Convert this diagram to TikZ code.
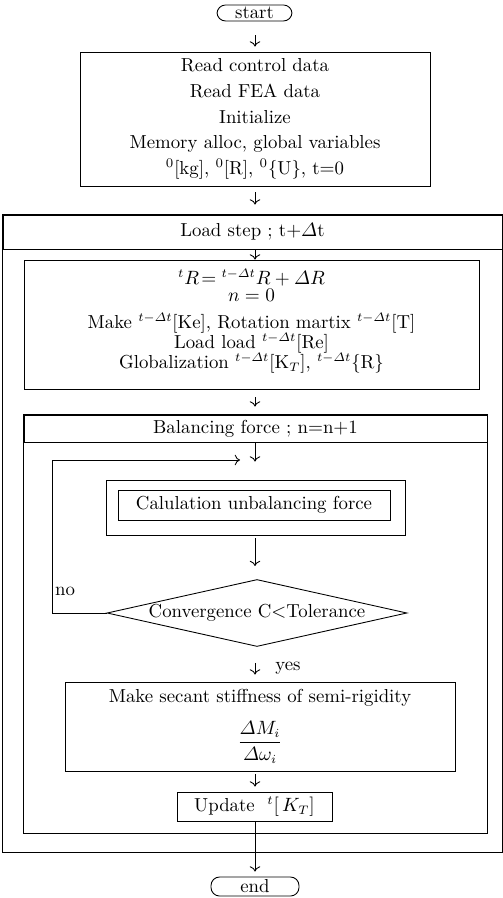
\documentclass[tikz,border=0pt]{standalone}
\usepackage{amsmath}
\usepackage{amssymb}
\usetikzlibrary{shapes.geometric,arrows.meta}
\lineskiplimit=-20pt

\begin{document}
\begin{tikzpicture}[x=0.02cm, y=-0.02cm, line width=0.5pt,
    every node/.style={font=\fontsize{10.7}{14.7}\selectfont},
    term/.style={draw, rounded corners=0.17cm, inner sep=0pt},
    box/.style={draw, align=center, inner sep=0pt},
    cond/.style={draw, diamond, aspect=4.5, inner sep=0pt},
    arr/.style={-{To[length=3pt,width=6pt]}}]
    \useasboundingbox (0,0) rectangle (503,898);
    \coordinate (axis) at (255,0);

    % start and input
    \node[term, minimum width=1.5cm, minimum height=0.32cm] (start) at (254.5,13) {start};
    \node[box, minimum width=7cm, minimum height=2.68cm] (box1) at (255,119)
        {Read control data\\ Read FEA data\\ Initialize\\ Memory alloc, global variables\\
         \textsuperscript{0}[kg], \textsuperscript{0}[R], \textsuperscript{0}\{U\}, t$=$0};

    % load step loop
    \node[box, minimum width=9.98cm, minimum height=0.68cm] (loadhdr) at (252.5,232)
        {Load step\ ; t$+\varDelta$t};
    \coordinate (loadbot) at (502,852);
    \draw (loadhdr.north west) rectangle (loadbot);
    \node[box, minimum width=9.1cm, minimum height=2.58cm,
        font=\fontsize{10.7}{11.4}\selectfont] (box2) at (251.5,324.5)
        {${}^{t}R\!={}^{t-\varDelta t}R+\varDelta R$\\[-1.8pt]
         $n=0$\\[4pt]
         Make ${}^{t-\varDelta t}$[Ke], Rotation martix ${}^{t-\varDelta t}$[T]\\
         Load load ${}^{t-\varDelta t}$[Re]\\
         Globalization ${}^{t-\varDelta t}$[K$_T$], ${}^{t-\varDelta t}$\{R\}\\[-4.5pt]\mbox{}};

    % balancing force loop
    \node[box, minimum width=9.26cm, minimum height=0.54cm] (balhdr) at (255.5,428.5)
        {Balancing force\ ; n$=$n$+$1};
    \coordinate (balbot) at (487,833);
    \draw (balhdr.north west) rectangle (balbot);
    \node[box, minimum width=5.98cm, minimum height=1.1cm] (calcframe) at (255.5,507.5) {};
    \node[box, minimum width=5.44cm, minimum height=0.6cm] (calc) at (254,505)
        {Calulation unbalancing force};
    \node[cond, minimum width=6cm, minimum height=1.34cm] (conv) at (257,613)
        {Convergence C$<$Tolerance};
    \node (no) at (65,591) {no};
    \node (yes) at (288,668) {yes};
    \node[box, minimum width=7.8cm, minimum height=1.78cm] (secant) at (260,726.5)
        {Make secant stiffness of semi-rigidity\\[11pt]
         $\dfrac{\varDelta M_i}{\varDelta\omega_i}$};
    \node[box, minimum width=3.1cm, minimum height=0.58cm] (update) at (254.5,806.5)
        {Update \ ${}^{t}[\,K_T]$};

    % end
    \node[term, minimum width=1.76cm, minimum height=0.38cm] (end) at (255,886.5) {end};

    % connectors
    \draw[arr, shorten <=0.28cm, shorten >=0.1cm] (start.south -| axis) -- (box1.north -| axis);
    \draw[arr, shorten <=0.12cm, shorten >=0.2cm] (box1.south -| axis) -- (loadhdr.north -| axis);
    \draw[arr] (loadhdr.south -| axis) -- (box2.north -| axis);
    \draw[arr, shorten <=0.16cm, shorten >=0.16cm] (box2.south -| axis) -- (balhdr.north -| axis);
    \draw[arr, shorten >=0.36cm] (balhdr.south -| axis) -- (calcframe.north -| axis);
    \coordinate (loopcorner) at (52,460);
    \coordinate (loopin) at (240,460);
    \draw[arr] (conv.west) -| (loopcorner) -- (loopin);
    \draw[arr, shorten <=0.06cm, shorten >=0.26cm] (calcframe.south -| axis) -- (conv.north -| axis);
    \draw[arr, shorten <=0.32cm, shorten >=0.14cm] (conv.south -| axis) -- (secant.north -| axis);
    \draw[arr, shorten <=0.06cm, shorten >=0.1cm] (secant.south -| axis) -- (update.north -| axis);
    \draw[arr, shorten >=0.1cm] (update.south -| axis) -- (end.north -| axis);
\end{tikzpicture}
\end{document}
